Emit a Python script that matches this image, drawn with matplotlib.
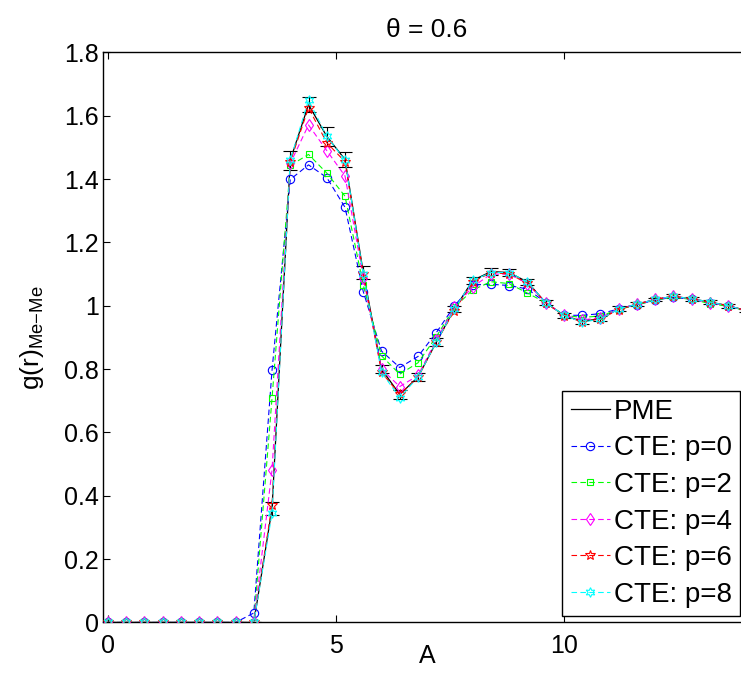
import matplotlib.pyplot as plt
import numpy as np

plt.rcParams['font.family'] = ['Liberation Sans', 'DejaVu Sans']
plt.rcParams['mathtext.fontset'] = 'custom'
plt.rcParams['mathtext.rm'] = 'Liberation Sans'
plt.rcParams['mathtext.it'] = 'Liberation Sans'

# distance A
r = [0.0, 0.4, 0.8, 1.2, 1.6, 2.0, 2.4, 2.8, 3.2, 3.6, 4.0, 4.4, 4.8, 5.2, 5.6, 6.0,
     6.4, 6.8, 7.2, 7.6, 8.0, 8.4, 8.8, 9.2, 9.6, 10.0, 10.4, 10.8, 11.2, 11.6, 12.0,
     12.4, 12.8, 13.2, 13.6, 14.0]

zeros8 = [0, 0, 0, 0, 0, 0, 0, 0]

g_pme = zeros8 + [0.0, 0.36, 1.46, 1.635, 1.535, 1.462, 1.105, 0.80, 0.72, 0.775, 0.885,
                  0.99, 1.08, 1.108, 1.105, 1.075, 1.01, 0.97, 0.95, 0.96, 0.99, 1.005,
                  1.02, 1.03, 1.022, 1.012, 1.0, 0.985]
g_pme_err = zeros8 + [0.0, 0.02, 0.03, 0.023, 0.03, 0.025, 0.02, 0.013, 0.015, 0.012, 0.012,
                      0.01, 0.01, 0.01, 0.01, 0.01, 0.008, 0.008, 0.008, 0.008, 0.008, 0.006,
                      0.006, 0.006, 0.006, 0.006, 0.006, 0.006]

g_p0 = zeros8 + [0.03, 0.797, 1.399, 1.445, 1.405, 1.311, 1.045, 0.857, 0.805, 0.84, 0.915,
                 1.0, 1.066, 1.068, 1.064, 1.053, 1.01, 0.97, 0.97, 0.975, 0.99, 1.003,
                 1.018, 1.027, 1.02, 1.01, 1.0, 0.985]
g_p2 = zeros8 + [0.0, 0.709, 1.443, 1.478, 1.419, 1.346, 1.066, 0.842, 0.784, 0.82, 0.902,
                 0.995, 1.05, 1.076, 1.07, 1.04, 1.01, 0.97, 0.963, 0.968, 0.988, 1.003,
                 1.018, 1.027, 1.02, 1.007, 0.998, 0.985]
g_p4 = zeros8 + [0.0, 0.482, 1.45, 1.571, 1.49, 1.41, 1.088, 0.80, 0.745, 0.78, 0.892,
                 0.995, 1.06, 1.10, 1.10, 1.07, 1.01, 0.97, 0.955, 0.962, 0.99, 1.005,
                 1.02, 1.03, 1.022, 1.01, 1.0, 0.985]
g_p6 = zeros8 + [0.0, 0.37, 1.455, 1.625, 1.515, 1.455, 1.10, 0.79, 0.72, 0.775, 0.885,
                 0.985, 1.075, 1.105, 1.10, 1.072, 1.01, 0.968, 0.95, 0.958, 0.988, 1.005,
                 1.02, 1.03, 1.022, 1.012, 1.0, 0.985]
g_p8 = zeros8 + [0.0, 0.345, 1.46, 1.65, 1.535, 1.46, 1.10, 0.79, 0.71, 0.775, 0.885,
                 0.99, 1.08, 1.105, 1.105, 1.075, 1.01, 0.97, 0.948, 0.958, 0.99, 1.005,
                 1.02, 1.03, 1.022, 1.012, 1.0, 0.985]

labels = ['CTE: p=0', 'CTE: p=2', 'CTE: p=4', 'CTE: p=6', 'CTE: p=8']
colors = ['#0000ff', '#00ff00', '#ff00ff', '#ff0000', '#00ffff']
markers = ['o', 's', 'd', '*', (6, 1, 0)]
msizes = [6, 5, 6, 7, 7]

fig = plt.figure(figsize=(7.41, 6.82), dpi=100)
ax = fig.add_axes([0.1394, 0.0873, 0.874, 0.8358])

# PME line + error bars
ax.plot(r, g_pme, color='k', lw=0.9, label='PME', zorder=2)
ax.errorbar(r, g_pme, yerr=g_pme_err, fmt='none', ecolor='k', elinewidth=0.8,
            capsize=5, capthick=0.8, zorder=2)

for y, lab, c, m, ms in zip([g_p0, g_p2, g_p4, g_p6, g_p8], labels, colors, markers, msizes):
    ax.plot(r, y, color=c, ls=(0, (5, 3)), lw=0.8, marker=m, ms=ms, mfc='none',
            mec=c, mew=0.8, label=lab, zorder=3)

ax.set_xlim(-0.1, 14.1)
ax.set_ylim(0, 1.8)
ax.set_xticks([0, 5, 10])
ax.set_yticks(np.arange(0, 1.81, 0.2))
ax.set_yticklabels(['0', '0.2', '0.4', '0.6', '0.8', '1', '1.2', '1.4', '1.6', '1.8'])
ax.tick_params(direction='in', top=True, right=True, length=5, width=0.8, labelsize=18)
ax.tick_params(axis='x', pad=8)
ax.tick_params(axis='y', pad=3)
for s in ax.spines.values():
    s.set_linewidth(1.0)

ax.set_title('θ = 0.6', fontsize=19, pad=11)
ax.set_xlabel('A', fontsize=18, labelpad=-10)
ax.set_ylabel('g(r)$_{\\mathregular{Me{-}Me}}$', fontsize=19, labelpad=13)

leg = ax.legend(loc='lower right', bbox_to_anchor=(0.9987, 0.0968),
                bbox_transform=fig.transFigure, borderaxespad=0, fontsize=20,
                handlelength=1.4, handletextpad=0.15, labelspacing=0.38,
                borderpad=0.3, fancybox=False, framealpha=1)
leg.get_frame().set_edgecolor('k')
leg.get_frame().set_linewidth(1.0)

plt.savefig('out.png', dpi=100)
